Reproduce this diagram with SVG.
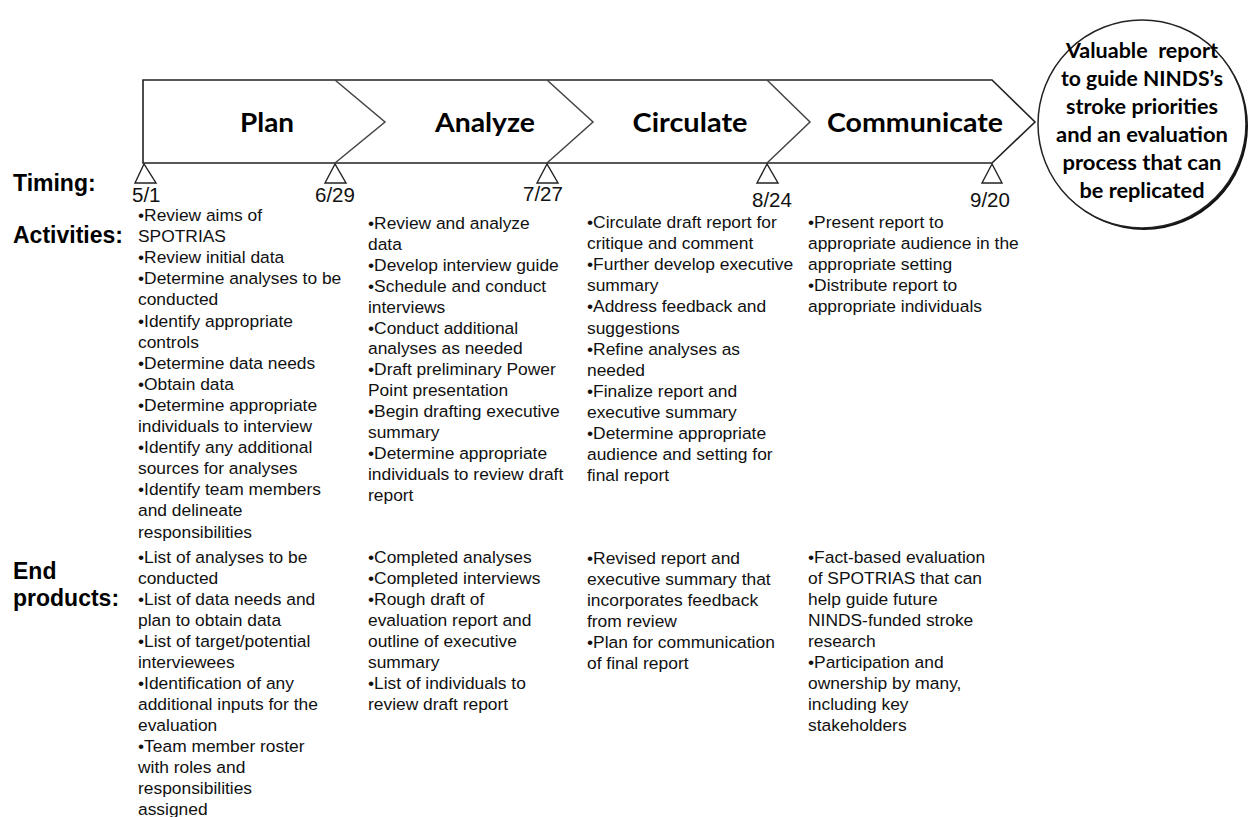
<svg xmlns="http://www.w3.org/2000/svg" width="1250" height="817" viewBox="0 0 1250 817">
<style>
.frame{fill:#fff;stroke:#222;stroke-width:1.6;stroke-linejoin:miter}
.chev{fill:none;stroke:#444;stroke-width:1.5}
.tri{fill:#fff;stroke:#222;stroke-width:1.4}
.phase{font-family:Lato,"Open Sans",sans-serif;font-weight:bold;font-size:27px;fill:#000}
.lbl{font-family:"Liberation Sans",Arial,sans-serif;font-weight:bold;font-size:23px;fill:#000}
.date{font-family:"Liberation Sans",Arial,sans-serif;font-size:20.5px;fill:#111}
.body{font-family:"Liberation Sans",Arial,sans-serif;font-size:17.4px;fill:#111}
.goal{font-family:Lato,"Open Sans",sans-serif;font-weight:bold;font-size:20.5px;fill:#000}
</style>
<rect width="1250" height="817" fill="#fff"/>

<g id="timeline-arrow">
  <path class="frame" d="M143,80 H992 L1035,122 L992,163 H143 Z"/>
  <path class="chev" d="M335,80 L385,122 L335,163 M547,80 L593,122 L547,163 M767,80 L810,122 L767,163"/>
</g>

<g id="phase-plan"><text class="phase" x="267" y="132" text-anchor="middle" textLength="54" lengthAdjust="spacingAndGlyphs">Plan</text></g>
<g id="phase-analyze"><text class="phase" x="485" y="132" text-anchor="middle" textLength="100" lengthAdjust="spacingAndGlyphs">Analyze</text></g>
<g id="phase-circulate"><text class="phase" x="690" y="132" text-anchor="middle" textLength="115" lengthAdjust="spacingAndGlyphs">Circulate</text></g>
<g id="phase-communicate"><text class="phase" x="915" y="132" text-anchor="middle" textLength="176" lengthAdjust="spacingAndGlyphs">Communicate</text></g>

<g id="goal">
  <circle cx="1144" cy="126" r="104" fill="#111"/>
  <circle cx="1142" cy="124" r="104" fill="#fff" stroke="#222" stroke-width="1.5"/>
  <text class="goal" text-anchor="middle" xml:space="preserve"><tspan x="1142" y="58" textLength="152" lengthAdjust="spacingAndGlyphs">Valuable  report</tspan><tspan x="1142" y="86" textLength="162" lengthAdjust="spacingAndGlyphs">to guide NINDS’s</tspan><tspan x="1142" y="114" textLength="152" lengthAdjust="spacingAndGlyphs">stroke priorities</tspan><tspan x="1142" y="142" textLength="172" lengthAdjust="spacingAndGlyphs">and an evaluation</tspan><tspan x="1142" y="170" textLength="159" lengthAdjust="spacingAndGlyphs">process that can</tspan><tspan x="1142" y="198" textLength="125" lengthAdjust="spacingAndGlyphs">be replicated</tspan></text>
</g>

<g id="milestones">
  <polygon class="tri" points="144,164 135,183 156,183"/>
  <polygon class="tri" points="335,164 325,183 346,183"/>
  <polygon class="tri" points="547,164 537,183 558,183"/>
  <polygon class="tri" points="767,164 757,183 778,183"/>
  <polygon class="tri" points="992,164 982,183 1002,183"/>
  <text class="date" x="132" y="202">5/1</text>
  <text class="date" x="315" y="202">6/29</text>
  <text class="date" x="523" y="201">7/27</text>
  <text class="date" x="752" y="207">8/24</text>
  <text class="date" x="970" y="207">9/20</text>
</g>

<g id="row-labels">
  <text class="lbl" x="13" y="191">Timing:</text>
  <text class="lbl" x="13" y="243">Activities:</text>
  <text class="lbl" x="13" y="579">End</text>
  <text class="lbl" x="13" y="606">products:</text>
</g>

<g id="activities-plan">
  <text class="body">
    <tspan x="138" y="221">•Review aims of</tspan>
    <tspan x="138" dy="21.1">SPOTRIAS</tspan>
    <tspan x="138" dy="21.1">•Review initial data</tspan>
    <tspan x="138" dy="21.1">•Determine analyses to be</tspan>
    <tspan x="138" dy="21.1">conducted</tspan>
    <tspan x="138" dy="21.1">•Identify appropriate</tspan>
    <tspan x="138" dy="21.1">controls</tspan>
    <tspan x="138" dy="21.1">•Determine data needs</tspan>
    <tspan x="138" dy="21.1">•Obtain data</tspan>
    <tspan x="138" dy="21.1">•Determine appropriate</tspan>
    <tspan x="138" dy="21.1">individuals to interview</tspan>
    <tspan x="138" dy="21.1">•Identify any additional</tspan>
    <tspan x="138" dy="21.1">sources for analyses</tspan>
    <tspan x="138" dy="21.1">•Identify team members</tspan>
    <tspan x="138" dy="21.1">and delineate</tspan>
    <tspan x="138" dy="21.1">responsibilities</tspan>
  </text>
</g>

<g id="activities-analyze">
  <text class="body">
    <tspan x="368" y="229">•Review and analyze</tspan>
    <tspan x="368" dy="20.9">data</tspan>
    <tspan x="368" dy="20.9">•Develop interview guide</tspan>
    <tspan x="368" dy="20.9">•Schedule and conduct</tspan>
    <tspan x="368" dy="20.9">interviews</tspan>
    <tspan x="368" dy="20.9">•Conduct additional</tspan>
    <tspan x="368" dy="20.9">analyses as needed</tspan>
    <tspan x="368" dy="20.9">•Draft preliminary Power</tspan>
    <tspan x="368" dy="20.9">Point presentation</tspan>
    <tspan x="368" dy="20.9">•Begin drafting executive</tspan>
    <tspan x="368" dy="20.9">summary</tspan>
    <tspan x="368" dy="20.9">•Determine appropriate</tspan>
    <tspan x="368" dy="20.9">individuals to review draft</tspan>
    <tspan x="368" dy="20.9">report</tspan>
  </text>
</g>

<g id="activities-circulate">
  <text class="body">
    <tspan x="587" y="228">•Circulate draft report for</tspan>
    <tspan x="587" dy="21.1">critique and comment</tspan>
    <tspan x="587" dy="21.1">•Further develop executive</tspan>
    <tspan x="587" dy="21.1">summary</tspan>
    <tspan x="587" dy="21.1">•Address feedback and</tspan>
    <tspan x="587" dy="21.1">suggestions</tspan>
    <tspan x="587" dy="21.1">•Refine analyses as</tspan>
    <tspan x="587" dy="21.1">needed</tspan>
    <tspan x="587" dy="21.1">•Finalize report and</tspan>
    <tspan x="587" dy="21.1">executive summary</tspan>
    <tspan x="587" dy="21.1">•Determine appropriate</tspan>
    <tspan x="587" dy="21.1">audience and setting for</tspan>
    <tspan x="587" dy="21.1">final report</tspan>
  </text>
</g>

<g id="activities-communicate">
  <text class="body">
    <tspan x="808" y="228">•Present report to</tspan>
    <tspan x="808" dy="21.1">appropriate audience in the</tspan>
    <tspan x="808" dy="21.1">appropriate setting</tspan>
    <tspan x="808" dy="21.1">•Distribute report to</tspan>
    <tspan x="808" dy="21.1">appropriate individuals</tspan>
  </text>
</g>

<g id="products-plan">
  <text class="body">
    <tspan x="138" y="563">•List of analyses to be</tspan>
    <tspan x="138" dy="21">conducted</tspan>
    <tspan x="138" dy="21">•List of data needs and</tspan>
    <tspan x="138" dy="21">plan to obtain data</tspan>
    <tspan x="138" dy="21">•List of target/potential</tspan>
    <tspan x="138" dy="21">interviewees</tspan>
    <tspan x="138" dy="21">•Identification of any</tspan>
    <tspan x="138" dy="21">additional inputs for the</tspan>
    <tspan x="138" dy="21">evaluation</tspan>
    <tspan x="138" dy="21">•Team member roster</tspan>
    <tspan x="138" dy="21">with roles and</tspan>
    <tspan x="138" dy="21">responsibilities</tspan>
    <tspan x="138" dy="21">assigned</tspan>
  </text>
</g>

<g id="products-analyze">
  <text class="body">
    <tspan x="368" y="563">•Completed analyses</tspan>
    <tspan x="368" dy="21">•Completed interviews</tspan>
    <tspan x="368" dy="21">•Rough draft of</tspan>
    <tspan x="368" dy="21">evaluation report and</tspan>
    <tspan x="368" dy="21">outline of executive</tspan>
    <tspan x="368" dy="21">summary</tspan>
    <tspan x="368" dy="21">•List of individuals to</tspan>
    <tspan x="368" dy="21">review draft report</tspan>
  </text>
</g>

<g id="products-circulate">
  <text class="body">
    <tspan x="587" y="564">•Revised report and</tspan>
    <tspan x="587" dy="21">executive summary that</tspan>
    <tspan x="587" dy="21">incorporates feedback</tspan>
    <tspan x="587" dy="21">from review</tspan>
    <tspan x="587" dy="21">•Plan for communication</tspan>
    <tspan x="587" dy="21">of final report</tspan>
  </text>
</g>

<g id="products-communicate">
  <text class="body">
    <tspan x="808" y="563">•Fact-based evaluation</tspan>
    <tspan x="808" dy="21">of SPOTRIAS that can</tspan>
    <tspan x="808" dy="21">help guide future</tspan>
    <tspan x="808" dy="21">NINDS-funded stroke</tspan>
    <tspan x="808" dy="21">research</tspan>
    <tspan x="808" dy="21">•Participation and</tspan>
    <tspan x="808" dy="21">ownership by many,</tspan>
    <tspan x="808" dy="21">including key</tspan>
    <tspan x="808" dy="21">stakeholders</tspan>
  </text>
</g>
</svg>
